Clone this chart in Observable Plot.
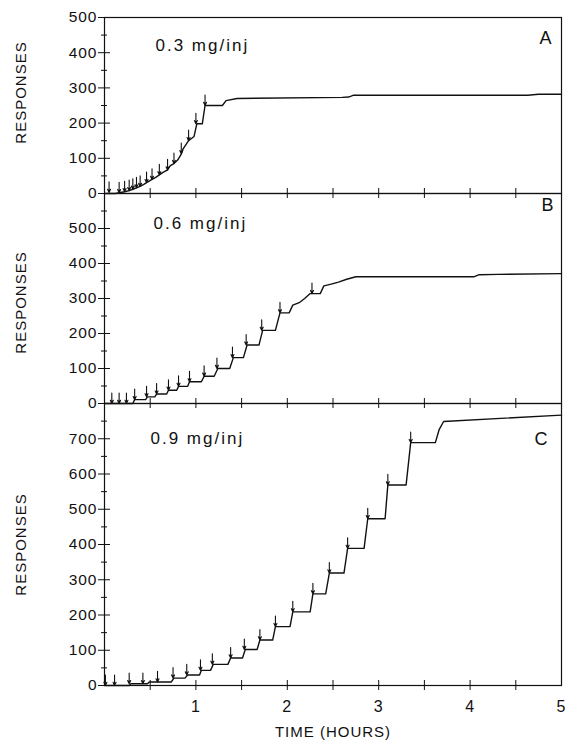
<!DOCTYPE html>
<html>
<head>
<meta charset="utf-8">
<script src="https://cdn.jsdelivr.net/npm/d3@7"></script>
<script src="https://cdn.jsdelivr.net/npm/@observablehq/plot@0.6"></script>
<style>
  body { margin: 0; background: #fff; }
  #wrap { position: relative; width: 565px; height: 746px; overflow: hidden; background: #fff; }
  #wrap svg { position: absolute; left: 0; }
  #wrap svg text { letter-spacing: 1px; }
  #wrap svg .dose text { letter-spacing: 2px; }
</style>
</head>
<body>
<div id="wrap"></div>
<script>
// ---- Panel A : 0.3 mg/inj ----
const timeA = [0, 0.12, 0.16, 0.22, 0.27, 0.31, 0.35, 0.39, 0.43, 0.46, 0.52, 0.56, 0.60, 0.64, 0.69, 0.72, 0.76, 0.80, 0.84, 0.86, 0.92, 0.98, 1.01, 1.07, 1.10, 1.29, 1.33, 1.45, 2.60, 2.67, 2.72, 4.63, 4.75, 5];
const respA = [0, 0, 2, 5, 8, 12, 16, 20, 26, 31, 40, 46, 53, 60, 67, 79, 85, 95, 112, 127, 150, 162, 198, 198, 250, 250, 264, 270, 273, 274, 279, 279, 282, 282];
const injTimeA = [0.05, 0.16, 0.22, 0.27, 0.31, 0.35, 0.39, 0.46, 0.52, 0.60, 0.69, 0.76, 0.84, 0.92, 1.00, 1.10];
const injRespA = [3, 2, 5, 8, 12, 16, 20, 31, 40, 53, 67, 85, 113, 150, 198, 250];

// ---- Panel B : 0.6 mg/inj ----
const timeB = [0, 0.31, 0.33, 0.45, 0.47, 0.55, 0.57, 0.68, 0.70, 0.79, 0.81, 0.91, 0.93, 1.06, 1.09, 1.20, 1.24, 1.37, 1.41, 1.52, 1.56, 1.69, 1.73, 1.87, 1.92, 2.02, 2.06, 2.13, 2.19, 2.25, 2.36, 2.40, 2.48, 2.56, 2.65, 2.75, 4.04, 4.10, 4.30, 5];
const respB = [0, 0, 11, 11, 19, 19, 27, 27, 38, 38, 49, 49, 62, 62, 78, 78, 100, 100, 131, 131, 167, 167, 209, 209, 259, 259, 281, 288, 300, 314, 314, 336, 341, 347, 355, 362, 362, 368, 369, 371];
const injTimeB = [0.08, 0.16, 0.24, 0.33, 0.46, 0.57, 0.70, 0.81, 0.93, 1.09, 1.23, 1.40, 1.55, 1.72, 1.92, 2.27];
const injRespB = [0, 0, 0, 11, 19, 27, 38, 49, 62, 78, 100, 131, 167, 209, 259, 314];

// ---- Panel C : 0.9 mg/inj ----
const timeC = [0, 0.27, 0.29, 0.47, 0.49, 0.73, 0.76, 0.88, 0.91, 1.04, 1.06, 1.16, 1.19, 1.35, 1.38, 1.51, 1.54, 1.67, 1.70, 1.84, 1.87, 2.03, 2.06, 2.25, 2.28, 2.42, 2.46, 2.62, 2.66, 2.84, 2.88, 3.07, 3.10, 3.30, 3.35, 3.62, 3.66, 3.71, 5];
const respC = [0, 0, 5, 5, 10, 10, 21, 21, 30, 30, 43, 43, 60, 60, 78, 78, 102, 102, 129, 129, 167, 167, 209, 209, 260, 260, 319, 319, 389, 389, 473, 473, 569, 569, 689, 689, 725, 749, 767];
const injTimeC = [0.01, 0.11, 0.27, 0.42, 0.58, 0.75, 0.90, 1.05, 1.18, 1.38, 1.53, 1.70, 1.87, 2.06, 2.28, 2.46, 2.66, 2.88, 3.10, 3.35];
const injRespC = [0, 0, 5, 5, 10, 21, 30, 43, 60, 78, 102, 129, 167, 209, 260, 319, 389, 473, 569, 689];

// ---- labels / ticks ----
const doses = ["0.3 mg/inj", "0.6 mg/inj", "0.9 mg/inj"];
const letters = ["A", "B", "C"];
const yMax = [500, 600, 800];
const yLabelMax = [500, 500, 700];
const xTickLabels = [1, 2, 3, 4, 5];
const xTicks = [0.5, 1, 1.5, 2, 2.5, 3, 3.5, 4, 4.5];
const yLabel = "RESPONSES";
const xLabel = "TIME (HOURS)";
const arrowLen = 30;

const ink = "#111";
const font = "'Liberation Sans', Arial, Helvetica, sans-serif";

const layout = [
  {top: 0,   height: 203, mt: 17, mb: 10, yLabDy: -13, doseDx: 51, doseDy: 28, letDx: -9,  letDy: 21},
  {top: 183, height: 230, mt: 10, mb: 10, yLabDy: 4,   doseDx: 49, doseDy: 30, letDx: -7,  letDy: 12},
  {top: 393, height: 353, mt: 10, mb: 61, yLabDy: 0,   doseDx: 46, doseDy: 35, letDx: -13, letDy: 36}
];

const series = [
  {time: timeA, resp: respA, injT: injTimeA, injV: injRespA},
  {time: timeB, resp: respB, injT: injTimeB, injV: injRespB},
  {time: timeC, resp: respC, injT: injTimeC, injV: injRespC}
];

const wrap = document.getElementById("wrap");

series.forEach((s, k) => {
  const L = layout[k];
  const curve = s.time.map((t, i) => ({t, r: s.resp[i]}));
  const inj = s.injT.map((t, i) => ({t, v: s.injV[i]}));
  const major = d3.range(0, yLabelMax[k] + 1, 100);
  const minor = d3.range(50, yMax[k], 100);
  const marks = [
    Plot.frame({stroke: ink, strokeWidth: 1.2}),
    Plot.axisY(major, {anchor: "left", tickSize: 12, dx: 6, tickPadding: 1, fontSize: 15.5, label: null, stroke: ink, fill: ink}),
    Plot.axisY(minor, {anchor: "left", tickSize: 6, dx: 3, tickFormat: () => "", label: null, stroke: ink}),
    Plot.axisX(xTicks, {anchor: "bottom", tickSize: 10, dy: -5, tickFormat: () => "", label: null, stroke: ink}),
    Plot.line(curve, {x: "t", y: "r", stroke: ink, strokeWidth: 1.4}),
    Plot.arrow(inj, {x: "t", y1: d => d.v + arrowLen, y2: "v", stroke: ink, strokeWidth: 1.1, headLength: 5, headAngle: 50}),
    Plot.text([yLabel], {text: d => d, frameAnchor: "left", rotate: -90, dx: -83, dy: L.yLabDy, fontSize: 15, fill: ink, textAnchor: "middle"}),
    Plot.text([doses[k]], {text: d => d, frameAnchor: "top-left", textAnchor: "start", lineAnchor: "middle", dx: L.doseDx, dy: L.doseDy, fontSize: 17, fill: ink, className: "dose"}),
    Plot.text([letters[k]], {text: d => d, frameAnchor: "top-right", textAnchor: "end", lineAnchor: "middle", dx: L.letDx, dy: L.letDy, fontSize: 18, fill: ink})
  ];
  if (k === 2) {
    marks.push(Plot.axisX(xTickLabels, {anchor: "bottom", tickSize: 0, tickPadding: 15, fontSize: 16, label: null, fill: ink}));
    marks.push(Plot.text([xLabel], {text: d => d, frameAnchor: "bottom", lineAnchor: "middle", dy: 47, fontSize: 15, fill: ink}));
  }
  const chart = Plot.plot({
    width: 565,
    height: L.height,
    marginTop: L.mt,
    marginBottom: L.mb,
    marginLeft: 104,
    marginRight: 4,
    x: {domain: [0, 5]},
    y: {domain: [0, yMax[k]]},
    style: {background: "transparent", overflow: "visible", fontFamily: font, color: ink},
    marks
  });
  chart.style.top = L.top + "px";
  wrap.appendChild(chart);
});
</script>
</body>
</html>
